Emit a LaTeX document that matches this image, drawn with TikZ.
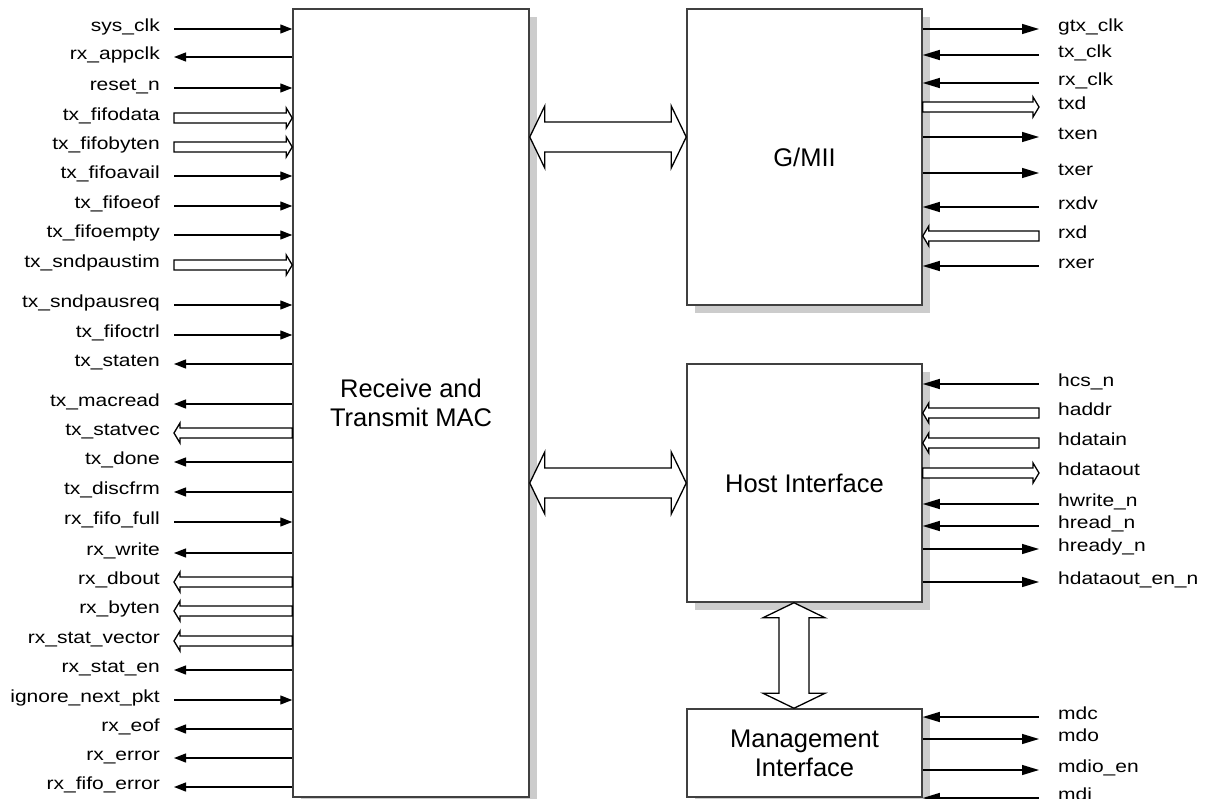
\documentclass[tikz,border=0pt]{standalone}
\usepackage{fontspec}
\setmainfont{Liberation Sans}
\newfontfamily\sigfont[FakeStretch=1.2]{Liberation Sans}
\usetikzlibrary{arrows.meta,calc,shadows}

\tikzstyle{block}=[draw=black!75,line width=1.5pt,fill=white,align=center,inner sep=0pt,
	font=\fontsize{25.5}{29}\selectfont,
	drop shadow={shadow xshift=8pt,shadow yshift=-8pt,fill=black!20,opacity=1}]
\tikzstyle{sigtext}=[inner sep=0pt,font=\sigfont\fontsize{17.5}{20}\selectfont]
\tikzstyle{sig}=[line width=1.3pt]
\tikzstyle{bus}=[line width=1.3pt,fill=white,line join=miter]

% hollow bus arrow, tail -> tip
\newcommand\thinbus[2]{%
	\coordinate (hb) at ($(#2)!6pt!(#1)$);
	\draw[bus] ($(#1)!5pt!90:(#2)$) -- ($(hb)!5pt!90:(#2)$) -- ($(hb)!10pt!90:(#2)$) -- (#2)
		-- ($(hb)!10pt!-90:(#2)$) -- ($(hb)!5pt!-90:(#2)$) -- ($(#1)!5pt!-90:(#2)$) -- cycle;}
% wide two-way bus between blocks
\newcommand\widebus[2]{%
	\coordinate (wa) at ($(#1)!15pt!(#2)$);
	\coordinate (wb) at ($(#2)!15pt!(#1)$);
	\draw[bus] (#1) -- ($(wa)!31pt!90:(#2)$) -- ($(wa)!15pt!90:(#2)$) -- ($(wb)!15pt!-90:(#1)$)
		-- ($(wb)!31pt!-90:(#1)$) -- (#2) -- ($(wb)!31pt!90:(#1)$) -- ($(wb)!15pt!90:(#1)$)
		-- ($(wa)!15pt!-90:(#2)$) -- ($(wa)!31pt!-90:(#2)$) -- cycle;}

\begin{document}
\begin{tikzpicture}[x=1pt,y=-1pt]
\useasboundingbox (0,0) rectangle (1206,799);

\node[block,minimum width=236,minimum height=788] (mac) at (411,403) {Receive and\\Transmit MAC};
\node[block,minimum width=235,minimum height=296] (gmii) at (804.5,157) {G/MII};
\node[block,minimum width=235,minimum height=238] (host) at (804.5,483) {Host Interface};
\node[block,minimum width=235,minimum height=88] (mgmt) at (804.5,753) {Management\\Interface};

% buses between blocks
\coordinate (m1) at (mac.east |- 0,137);
\coordinate (g1) at (gmii.west |- 0,137);
\coordinate (m2) at (mac.east |- 0,483);
\coordinate (h2) at (host.west |- 0,483);
\coordinate (h3) at (794,0 |- host.south);
\coordinate (n3) at (794,0 |- mgmt.north);
\widebus{m1}{g1}
\widebus{m2}{h2}
\widebus{h3}{n3}

% MAC pins: 0 in, 1 out, 2 bus in, 3 bus out
\foreach \y/\txt/\k [count=\i] in {29/sys\_clk/0, 57/rx\_appclk/1, 88/reset\_n/0,
	118/tx\_fifodata/2, 147/tx\_fifobyten/2, 176/tx\_fifoavail/0, 206/tx\_fifoeof/0,
	235/tx\_fifoempty/0, 265/tx\_sndpaustim/2, 305/tx\_sndpausreq/0, 335/tx\_fifoctrl/0,
	364/tx\_staten/1, 404/tx\_macread/1, 433/tx\_statvec/3, 462/tx\_done/1, 492/tx\_discfrm/1,
	522/rx\_fifo\_full/0, 553/rx\_write/1, 582/rx\_dbout/3, 611/rx\_byten/3,
	641/rx\_stat\_vector/3, 670/rx\_stat\_en/1, 700/ignore\_next\_pkt/0, 729/rx\_eof/1,
	758/rx\_error/1, 787/rx\_fifo\_error/1}{
	\node[sigtext,anchor=mid east] (l\i) at (160,\y) {\txt};
	\coordinate (lt\i) at ([xshift=14pt]l\i.mid east);
	\coordinate (le\i) at (mac.west |- l\i.mid east);
	\ifcase\k\relax
		\draw[sig,-{Triangle[length=12pt,width=9pt]}] (lt\i) -- (le\i);
	\or \draw[sig,{Triangle[length=12pt,width=9pt]}-] (lt\i) -- (le\i);
	\or \thinbus{lt\i}{le\i}
	\or \thinbus{le\i}{lt\i}
	\fi
}

% pins on the right: 0 out, 1 in, 2 bus out, 3 bus in
\foreach \y/\txt/\k/\b [count=\i] in {29/gtx\_clk/0/gmii, 55/tx\_clk/1/gmii, 83/rx\_clk/1/gmii,
	107/txd/2/gmii, 137/txen/0/gmii, 173/txer/0/gmii, 207/rxdv/1/gmii, 236/rxd/3/gmii,
	266/rxer/1/gmii, 384/hcs\_n/1/host, 413/haddr/3/host, 443/hdatain/3/host,
	473/hdataout/2/host, 504/hwrite\_n/1/host, 526/hread\_n/1/host, 549/hready\_n/0/host,
	582/hdataout\_en\_n/0/host, 717/mdc/1/mgmt, 739/mdo/0/mgmt, 770/mdio\_en/0/mgmt,
	798/mdi/1/mgmt}{
	\node[sigtext,anchor=mid west] (r\i) at (1058,\y) {\txt};
	\coordinate (rt\i) at ([xshift=-19pt]r\i.mid west);
	\coordinate (re\i) at (\b.east |- r\i.mid west);
	\ifcase\k\relax
		\draw[sig,-{Triangle[length=17pt,width=10pt]}] (re\i) -- (rt\i);
	\or \draw[sig,{Triangle[length=17pt,width=10pt]}-] (re\i) -- (rt\i);
	\or \thinbus{re\i}{rt\i}
	\or \thinbus{rt\i}{re\i}
	\fi
}
\end{tikzpicture}
\end{document}
